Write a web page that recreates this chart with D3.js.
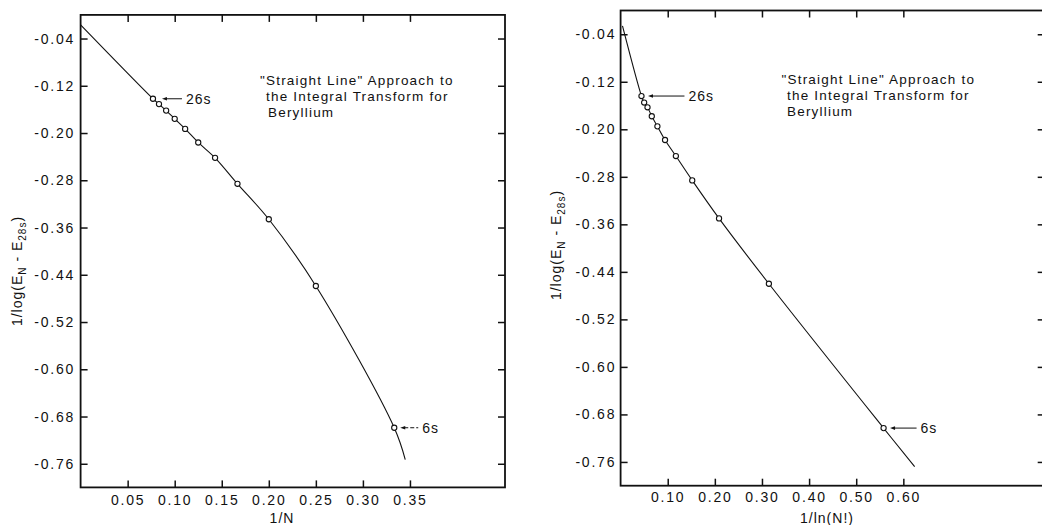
<!DOCTYPE html>
<html><head><meta charset="utf-8">
<script src="https://cdn.jsdelivr.net/npm/d3@7/dist/d3.min.js"></script>
<style>
body{margin:0;background:#fff}
text{font-family:"Liberation Sans",Arial,sans-serif;fill:#111}
</style>
</head><body>
<svg id="c" width="1042" height="525"></svg>
<script>
// ---- data ----
const basisN = [13,12,11,10,9,8,7,6,5,4,3];           // 26s ... 6s
const pointLabels = ["26s","","","","","","","","","","6s"];
const invN = [0.0769,0.0833,0.0909,0.1000,0.1111,0.1250,0.1429,0.1667,0.2000,0.2500,0.3333];
const invLnFact = [0.0443,0.0500,0.0571,0.0662,0.0781,0.0943,0.1173,0.1520,0.2089,0.3147,0.5581];
const yLeft  = [-0.142,-0.151,-0.162,-0.176,-0.193,-0.216,-0.242,-0.286,-0.346,-0.459,-0.699];
const yRight = [-0.144,-0.155,-0.163,-0.178,-0.195,-0.218,-0.245,-0.286,-0.350,-0.460,-0.703];
// extra points of the drawn curves (ends of the fitted line)
const curveLeftStart = [0.0, -0.017], curveLeftEnd = [0.345, -0.753];
const curveRightStart = [0.004, -0.026], curveRightEnd = [0.624, -0.768];
const yTicks = [-0.04,-0.12,-0.20,-0.28,-0.36,-0.44,-0.52,-0.60,-0.68,-0.76];
const xTicksLeft = [0.05,0.10,0.15,0.20,0.25,0.30,0.35];
const xTicksRight = [0.10,0.20,0.30,0.40,0.50,0.60];
const titleLines = ['"Straight Line" Approach to','the Integral Transform for','Beryllium'];

const svg = d3.select("#c");

function drawPanel(cfg){
  const x = d3.scaleLinear().domain(cfg.xDomain).range(cfg.xRange);
  const y = d3.scaleLinear().domain([0,-0.8]).range(cfg.yRange);
  const g = svg.append("g");
  const [x0,x1] = cfg.xRange, [y0,y1] = cfg.yRange;

  const ax = (sel)=>{ sel.select(".domain").remove();
    sel.selectAll(".tick line").attr("stroke","#111").attr("stroke-width",1.5);
    sel.selectAll(".tick text").attr("font-size",14).attr("letter-spacing",1.8).attr("fill","#111");};

  g.append("g").attr("transform",`translate(0,${y1})`)
    .call(d3.axisBottom(x).tickValues(cfg.xTicks).tickFormat(d=>d.toFixed(2)).tickSize(-7).tickPadding(cfg.xPad))
    .call(ax);
  g.append("g").attr("transform",`translate(0,${y0})`)
    .call(d3.axisTop(x).tickValues(cfg.xTicks).tickFormat("").tickSize(-7)).call(ax);
  g.append("g").attr("transform",`translate(${x0},0)`)
    .call(d3.axisLeft(y).tickValues(yTicks).tickFormat(d=>d.toFixed(2)).tickSize(-7).tickPadding(cfg.yPad))
    .call(ax);
  g.append("g").attr("transform",`translate(${x1},0)`)
    .call(d3.axisRight(y).tickValues(yTicks).tickFormat("").tickSize(-7)).call(ax);

  g.append("rect").attr("x",x0).attr("y",y0).attr("width",x1-x0).attr("height",y1-y0)
    .attr("fill","none").attr("stroke","#111").attr("stroke-width",1.8);

  const pts = cfg.xs.map((v,i)=>[v,cfg.ys[i]]);
  const curvePts = [cfg.start, ...pts, cfg.end];
  g.append("path").datum(curvePts)
    .attr("d", d3.line().x(d=>x(d[0])).y(d=>y(d[1])).curve(d3.curveCatmullRom.alpha(0.5)))
    .attr("fill","none").attr("stroke","#111").attr("stroke-width",1.1);

  g.selectAll("circle").data(pts).join("circle")
    .attr("cx",d=>x(d[0])).attr("cy",d=>y(d[1])).attr("r",2.6)
    .attr("fill","#fff").attr("stroke","#111").attr("stroke-width",1.1);

  // arrow annotations
  cfg.arrows.forEach(a=>{
    const px = x(pts[a.i][0]), py = y(pts[a.i][1]);
    const ax0 = px + a.gap, ax1 = px + a.len;
    g.append("line").attr("x1",ax0+4).attr("x2",ax1).attr("y1",py).attr("y2",py)
      .attr("stroke","#111").attr("stroke-width",1).attr("stroke-dasharray",a.dash||null);
    g.append("path").attr("d",`M${ax0},${py}L${ax0+5},${py-1.8}L${ax0+5},${py+1.8}Z`).attr("fill","#111");
    g.append("text").attr("x",ax1+4).attr("y",py).attr("dy","0.36em")
      .attr("font-size",14).attr("letter-spacing",1).text(pointLabels[a.i]);
  });

  // title text
  titleLines.forEach((t,i)=>{
    g.append("text").attr("x",cfg.tx[i]).attr("y",cfg.ty[i]).attr("font-size",13.5)
      .attr("letter-spacing",1.2).text(t);
  });

  // x label
  g.append("text").attr("x",cfg.xlab[0]).attr("y",cfg.xlab[1]).attr("text-anchor","middle")
    .attr("font-size",14).attr("letter-spacing",1).text(cfg.xLabel);

  // y label
  const yl = g.append("text").attr("transform",`translate(${cfg.ylab[0]},${cfg.ylab[1]}) rotate(-90)`)
    .attr("text-anchor","middle").attr("font-size",14).attr("letter-spacing",1);
  yl.append("tspan").text("1/log(E");
  yl.append("tspan").attr("dy",4).attr("font-size",10).text("N");
  yl.append("tspan").attr("dy",-4).text(" - E");
  yl.append("tspan").attr("dy",4).attr("font-size",10).text("28s");
  yl.append("tspan").attr("dy",-4).text(")");
}

drawPanel({
  xDomain:[0,0.451], xRange:[80.6,505], yRange:[14.9,487.4],
  xTicks:xTicksLeft, xPad:8, yPad:5.5,
  xs:invN, ys:yLeft, start:curveLeftStart, end:curveLeftEnd,
  arrows:[{i:0,gap:9,len:29},{i:10,gap:6,len:24,dash:"4,2"}],
  tx:[260,266,268], ty:[85,101,116.5],
  xlab:[282,523], xLabel:"1/N", ylab:[22,271]
});
drawPanel({
  xDomain:[0,0.9], xRange:[620.6,1044.7], yRange:[10.5,485.7],
  xTicks:xTicksRight, xPad:6.5, yPad:4.3,
  xs:invLnFact, ys:yRight, start:curveRightStart, end:curveRightEnd,
  arrows:[{i:0,gap:6.5,len:43},{i:10,gap:6.5,len:33}],
  tx:[781.5,787,787], ty:[84,100,116],
  xlab:[827,523], xLabel:"1/ln(N!)", ylab:[561,245]
});
</script>
</body></html>
